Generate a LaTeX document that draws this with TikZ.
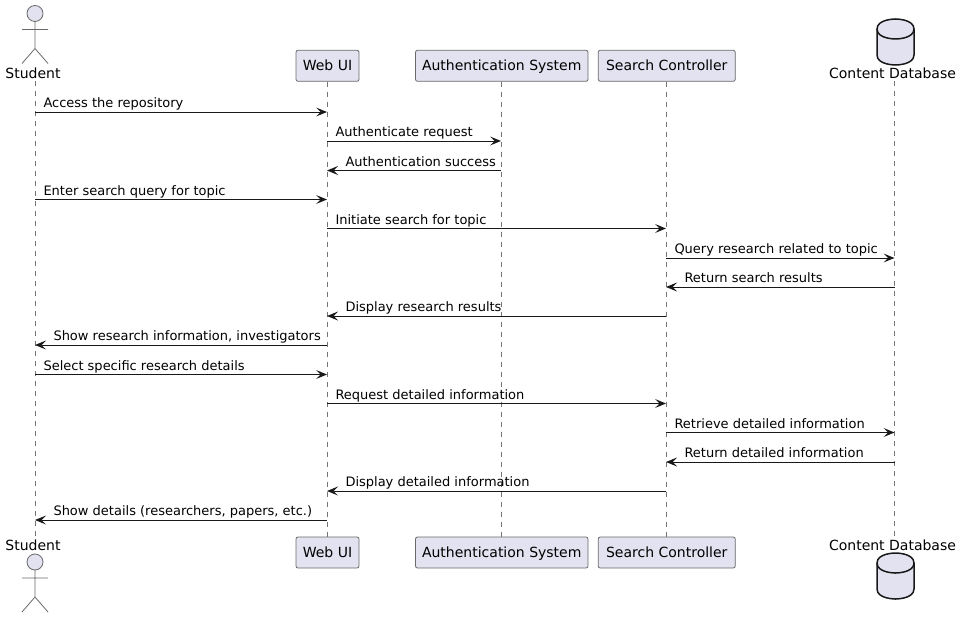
\documentclass[tikz,border=0pt]{standalone}
\usepackage{fontspec}
\setmainfont{DejaVu Sans}
\usetikzlibrary{arrows.meta}

\definecolor{umlfill}{HTML}{E2E2F0}
\definecolor{umlline}{HTML}{181818}

\tikzset{
  partbox/.style={draw=umlline!65,fill=umlfill,line width=0.8pt,rounded corners=2pt,
    minimum height=31pt,inner sep=0pt,text height=12pt,text depth=3pt,font=\fontsize{14}{16}\selectfont},
  partname/.style={inner sep=0pt,minimum height=16pt,font=\fontsize{14}{16}\selectfont},
  lifeline/.style={draw=umlline!60,line width=0.7pt,dash pattern=on 5pt off 5pt},
  msgline/.style={draw=umlline,line width=1pt,-{Stealth[length=11pt,width=9pt,inset=4.5pt,line width=0pt]}},
  msgright/.style={pos=0,anchor=base west,inner sep=0pt,xshift=8pt,yshift=5pt,font=\fontsize{13}{15}\selectfont},
  msgleft/.style={pos=1,anchor=base west,inner sep=0pt,xshift=18pt,yshift=5pt,font=\fontsize{13}{15}\selectfont},
  msglow/.style={yshift=-0.7pt},
  stickman/.pic={
    \draw[draw=umlline!65,fill=umlfill,line width=0.8pt] (0,0) circle (8);
    \draw[draw=umlline!65,line width=0.8pt] (0,8) -- (0,35) (-13,16) -- (13,16) (-13,50) -- (0,35) -- (13,50);
  },
  dbdrum/.pic={
    \draw[draw=umlline,fill=umlfill,line width=1.5pt] (-18.5,10) .. controls (-18.5,0) and (0,0) .. (0,0)
      .. controls (0,0) and (18.5,0) .. (18.5,10) -- (18.5,36) .. controls (18.5,46) and (0,46) .. (0,46)
      .. controls (0,46) and (-18.5,46) .. (-18.5,36) -- cycle;
    \draw[draw=umlline,line width=1.5pt] (-18.5,10) .. controls (-18.5,20) and (0,20) .. (0,20)
      .. controls (0,20) and (18.5,20) .. (18.5,10);
  }
}

\begin{document}
\begin{tikzpicture}[x=1pt,y=-1pt]
  \useasboundingbox (0,0) rectangle (961,618);

  % top row
  \node[partname] (student) at (33,73) {Student};
  \node[partbox,minimum width=63pt] (webui) at (327.5,65.8) {Web UI};
  \node[partbox,minimum width=172.5pt] (auth) at (501.75,65.8) {Authentication System};
  \node[partbox,minimum width=137pt] (search) at (666.75,65.8) {Search Controller};
  \node[partname] (content) at (892.5,73) {Content Database};

  % bottom row
  \node[partname] (studentb) at (33,545) {Student};
  \node[partbox,minimum width=63pt] (webuib) at (327.5,552.5) {Web UI};
  \node[partbox,minimum width=172.5pt] (authb) at (501.75,552.5) {Authentication System};
  \node[partbox,minimum width=137pt] (searchb) at (666.75,552.5) {Search Controller};
  \node[partname] (contentb) at (892.5,545) {Content Database};

  \pic at (35,13.5) {stickman};
  \pic at (35,562) {stickman};
  \pic at (895.5,19) {dbdrum};
  \pic at (895.5,553) {dbdrum};

  % lifelines
  \coordinate (lstudent) at (35,0);
  \coordinate (lweb) at (327,0);
  \coordinate (lauth) at (501,0);
  \coordinate (lsearch) at (666,0);
  \coordinate (lcontent) at (894.5,0);
  \draw[lifeline] (lstudent |- student.south) -- (lstudent |- studentb.north);
  \draw[lifeline] (lweb |- webui.south) -- (lweb |- webuib.north);
  \draw[lifeline] (lauth |- auth.south) -- (lauth |- authb.north);
  \draw[lifeline] (lsearch |- search.south) -- (lsearch |- searchb.north);
  \draw[lifeline] (lcontent |- content.south) -- (lcontent |- contentb.north);

  % messages
  \draw[msgline] (lstudent |- 0,112) -- node[msgright] (m1) {Access the repository} (lweb |- 0,112);
  \draw[msgline] (lweb |- 0,141) -- node[msgright] (m2) {Authenticate request} (lauth |- 0,141);
  \draw[msgline] (lauth |- 0,170.5) -- node[msgleft,msglow] (m3) {Authentication success} (lweb |- 0,170.5);
  \draw[msgline] (lstudent |- 0,199.5) -- node[msgright,msglow] (m4) {Enter search query for topic} (lweb |- 0,199.5);
  \draw[msgline] (lweb |- 0,228.5) -- node[msgright,msglow] (m5) {Initiate search for topic} (lsearch |- 0,228.5);
  \draw[msgline] (lsearch |- 0,258) -- node[msgright] (m6) {Query research related to topic} (lcontent |- 0,258);
  \draw[msgline] (lcontent |- 0,287) -- node[msgleft] (m7) {Return search results} (lsearch |- 0,287);
  \draw[msgline] (lsearch |- 0,316) -- node[msgleft] (m8) {Display research results} (lweb |- 0,316);
  \draw[msgline] (lweb |- 0,345) -- node[msgleft] (m9) {Show research information, investigators} (lstudent |- 0,345);
  \draw[msgline] (lstudent |- 0,374.5) -- node[msgright,msglow] (m10) {Select specific research details} (lweb |- 0,374.5);
  \draw[msgline] (lweb |- 0,403.5) -- node[msgright,msglow] (m11) {Request detailed information} (lsearch |- 0,403.5);
  \draw[msgline] (lsearch |- 0,432.5) -- node[msgright,msglow] (m12) {Retrieve detailed information} (lcontent |- 0,432.5);
  \draw[msgline] (lcontent |- 0,462) -- node[msgleft] (m13) {Return detailed information} (lsearch |- 0,462);
  \draw[msgline] (lsearch |- 0,491) -- node[msgleft] (m14) {Display detailed information} (lweb |- 0,491);
  \draw[msgline] (lweb |- 0,520) -- node[msgleft] (m15) {Show details (researchers, papers, etc.)} (lstudent |- 0,520);
\end{tikzpicture}
\end{document}
